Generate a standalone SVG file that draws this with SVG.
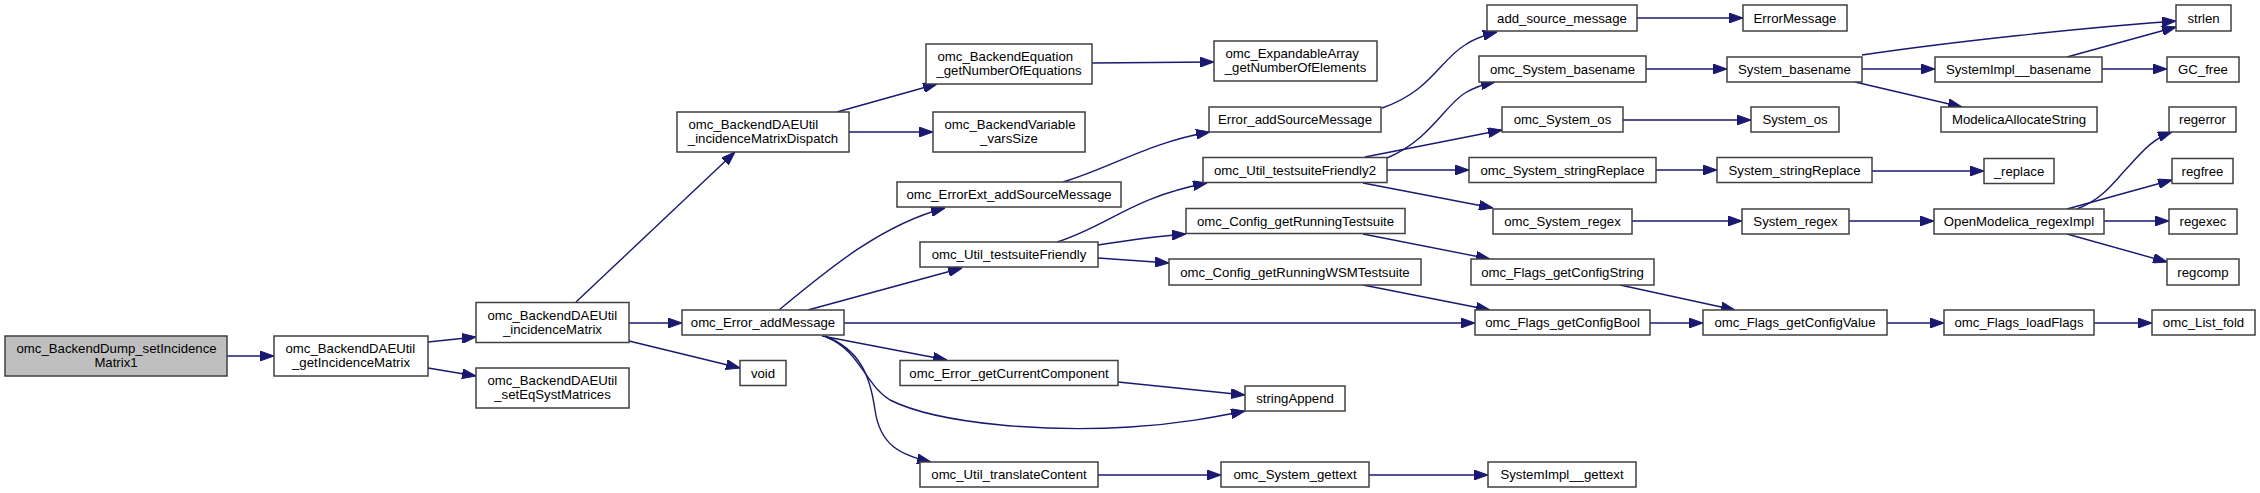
<svg xmlns="http://www.w3.org/2000/svg" width="2260" height="493" viewBox="0 0 2260 493">
<style>
rect{fill:#ffffff;stroke:#404040;stroke-width:1.5}
rect.root{fill:#bfbfbf}
text{font-family:"Liberation Sans",Arial,sans-serif;font-size:13.2px;fill:#000}
.m{text-anchor:middle}
.s{text-anchor:start}
#edges path{fill:none;stroke:#191970;stroke-width:1.4;marker-end:url(#ah)}
</style>
<defs>
<marker id="ah" markerUnits="userSpaceOnUse" markerWidth="14" markerHeight="10" refX="14" refY="5" orient="auto">
<path d="M0,0 L14,5 L0,10 z" fill="#191970" stroke="#191970" stroke-width="1"/>
</marker>
</defs>
<rect x="0" y="0" width="2260" height="493" style="fill:#fff;stroke:none"/>
<g id="edges">
<path d="M227,356 L274,356"/>
<path d="M428,342 L476,337"/>
<path d="M428,368 L476,376"/>
<path d="M576,302 L735,152"/>
<path d="M629,323 L682,323"/>
<path d="M629,341 L740,368"/>
<path d="M837,112 L937,84"/>
<path d="M849,132 L933,132"/>
<path d="M1092,63 L1214,62"/>
<path d="M779,310 C825,272 880,225 945,208"/>
<path d="M808,310 L962,268"/>
<path d="M844,323 L1475,323"/>
<path d="M822,336 L947,360"/>
<path d="M826,337 C860,350 865,385 890,400 C940,425 1050,432 1130,427 C1180,424 1215,417 1245,411"/>
<path d="M825,336 C860,350 870,375 875,410 C880,445 900,455 931,462"/>
<path d="M1118,382 L1245,395"/>
<path d="M1098,475 L1221,475"/>
<path d="M1369,475 L1488,475"/>
<path d="M1063,182 C1110,168 1150,142 1210,132"/>
<path d="M1057,242 C1110,225 1130,198 1207,183"/>
<path d="M1098,245 C1130,240 1160,236 1186,234"/>
<path d="M1098,258 L1169,263"/>
<path d="M1382,108 C1430,92 1440,60 1465,45 C1475,38 1485,35 1497,32"/>
<path d="M1637,18 L1743,18"/>
<path d="M1387,158 C1430,140 1445,105 1465,93 C1475,87 1485,84 1495,82"/>
<path d="M1365,157 L1502,130"/>
<path d="M1387,170 L1469,170"/>
<path d="M1363,183 L1493,208"/>
<path d="M1656,170 L1717,170"/>
<path d="M1646,69 L1727,69"/>
<path d="M1623,120 L1751,120"/>
<path d="M1632,221 L1742,221"/>
<path d="M1363,234 L1490,259"/>
<path d="M1363,285 L1490,310"/>
<path d="M1620,285 L1735,310"/>
<path d="M1650,323 L1703,323"/>
<path d="M1887,323 L1944,323"/>
<path d="M2094,323 L2152,323"/>
<path d="M1862,55 C1950,42 2080,28 2176,21"/>
<path d="M2067,57 L2176,27"/>
<path d="M1862,69 L1935,69"/>
<path d="M1855,82 L1962,107"/>
<path d="M2102,69 L2167,69"/>
<path d="M1872,171 L1984,171"/>
<path d="M1849,221 L1934,221"/>
<path d="M2077,209 C2105,198 2115,180 2130,165 C2145,148 2155,138 2172,132"/>
<path d="M2067,209 L2172,180"/>
<path d="M2104,221 L2169,221"/>
<path d="M2067,234 L2167,262"/>
</g>
<g id="n_root"><rect class="root" x="5" y="336" width="222" height="40"/><text class="s" x="16.5" y="353">omc_BackendDump_setIncidence</text><text class="m" x="116" y="367">Matrix1</text></g>
<g id="n_getIncidenceMatrix"><rect x="274" y="336" width="154" height="40"/><text class="s" x="285.5" y="353">omc_BackendDAEUtil</text><text class="m" x="351" y="367">_getIncidenceMatrix</text></g>
<g id="n_incidenceMatrix"><rect x="476" y="302.5" width="153" height="40"/><text class="s" x="487.5" y="319.5">omc_BackendDAEUtil</text><text class="m" x="552.5" y="333.5">_incidenceMatrix</text></g>
<g id="n_setEqSystMatrices"><rect x="476" y="368" width="153" height="40"/><text class="s" x="487.5" y="385">omc_BackendDAEUtil</text><text class="m" x="552.5" y="399">_setEqSystMatrices</text></g>
<g id="n_dispatch"><rect x="677" y="112" width="172" height="40"/><text class="s" x="688.5" y="129">omc_BackendDAEUtil</text><text class="m" x="763" y="143">_incidenceMatrixDispatch</text></g>
<g id="n_addMessage"><rect x="682" y="310" width="162" height="25"/><text class="m" x="763" y="327">omc_Error_addMessage</text></g>
<g id="n_void"><rect x="740" y="360.5" width="46" height="25"/><text class="m" x="763" y="377.5">void</text></g>
<g id="n_getNumberOfEquations"><rect x="926" y="44" width="166" height="40"/><text class="s" x="937.5" y="61">omc_BackendEquation</text><text class="m" x="1009" y="75">_getNumberOfEquations</text></g>
<g id="n_varsSize"><rect x="933" y="112" width="152" height="40"/><text class="s" x="944.5" y="129">omc_BackendVariable</text><text class="m" x="1009" y="143">_varsSize</text></g>
<g id="n_ErrorExt"><rect x="897" y="182" width="224" height="25"/><text class="m" x="1009" y="199">omc_ErrorExt_addSourceMessage</text></g>
<g id="n_testsuiteFriendly"><rect x="920" y="242" width="178" height="25"/><text class="m" x="1009" y="259">omc_Util_testsuiteFriendly</text></g>
<g id="n_getCurrentComponent"><rect x="900" y="360.5" width="218" height="25"/><text class="m" x="1009" y="377.5">omc_Error_getCurrentComponent</text></g>
<g id="n_translateContent"><rect x="920" y="462" width="178" height="25"/><text class="m" x="1009" y="479">omc_Util_translateContent</text></g>
<g id="n_ExpandableArray"><rect x="1214" y="41" width="163" height="40"/><text class="s" x="1225.5" y="58">omc_ExpandableArray</text><text class="m" x="1295.5" y="72">_getNumberOfElements</text></g>
<g id="n_Error_addSourceMessage"><rect x="1209" y="107" width="172" height="25"/><text class="m" x="1295" y="124">Error_addSourceMessage</text></g>
<g id="n_testsuiteFriendly2"><rect x="1203" y="157.5" width="184" height="25"/><text class="m" x="1295" y="174.5">omc_Util_testsuiteFriendly2</text></g>
<g id="n_getRunningTestsuite"><rect x="1186" y="208.5" width="219" height="25"/><text class="m" x="1295.5" y="225.5">omc_Config_getRunningTestsuite</text></g>
<g id="n_getRunningWSMTestsuite"><rect x="1169" y="259" width="252" height="26"/><text class="m" x="1295" y="276.5">omc_Config_getRunningWSMTestsuite</text></g>
<g id="n_stringAppend"><rect x="1245" y="386" width="100" height="25"/><text class="m" x="1295" y="403">stringAppend</text></g>
<g id="n_System_gettext_omc"><rect x="1221" y="462" width="148" height="25"/><text class="m" x="1295" y="479">omc_System_gettext</text></g>
<g id="n_add_source_message"><rect x="1487" y="5" width="150" height="26"/><text class="m" x="1562" y="22.5">add_source_message</text></g>
<g id="n_omc_System_basename"><rect x="1479" y="56" width="167" height="26"/><text class="m" x="1562.5" y="73.5">omc_System_basename</text></g>
<g id="n_omc_System_os"><rect x="1502" y="107" width="121" height="25"/><text class="m" x="1562.5" y="124">omc_System_os</text></g>
<g id="n_omc_System_stringReplace"><rect x="1469" y="157.5" width="187" height="25"/><text class="m" x="1562.5" y="174.5">omc_System_stringReplace</text></g>
<g id="n_omc_System_regex"><rect x="1493" y="209" width="139" height="25"/><text class="m" x="1562.5" y="226">omc_System_regex</text></g>
<g id="n_getConfigString"><rect x="1471" y="259" width="183" height="26"/><text class="m" x="1562.5" y="276.5">omc_Flags_getConfigString</text></g>
<g id="n_getConfigBool"><rect x="1475" y="310" width="175" height="25"/><text class="m" x="1562.5" y="327">omc_Flags_getConfigBool</text></g>
<g id="n_SystemImpl_gettext"><rect x="1488" y="462" width="148" height="25"/><text class="m" x="1562" y="479">SystemImpl__gettext</text></g>
<g id="n_ErrorMessage"><rect x="1743" y="5" width="104" height="26"/><text class="m" x="1795" y="22.5">ErrorMessage</text></g>
<g id="n_System_basename"><rect x="1727" y="57" width="135" height="25"/><text class="m" x="1794.5" y="74">System_basename</text></g>
<g id="n_System_os"><rect x="1751" y="107" width="88" height="25"/><text class="m" x="1795" y="124">System_os</text></g>
<g id="n_System_stringReplace"><rect x="1717" y="157.5" width="155" height="25"/><text class="m" x="1794.5" y="174.5">System_stringReplace</text></g>
<g id="n_System_regex"><rect x="1742" y="209" width="107" height="25"/><text class="m" x="1795.5" y="226">System_regex</text></g>
<g id="n_getConfigValue"><rect x="1703" y="310" width="184" height="25"/><text class="m" x="1795" y="327">omc_Flags_getConfigValue</text></g>
<g id="n_strlen"><rect x="2176" y="5" width="55" height="26"/><text class="m" x="2203.5" y="22.5">strlen</text></g>
<g id="n_SystemImpl_basename"><rect x="1935" y="57" width="167" height="25"/><text class="m" x="2018.5" y="74">SystemImpl__basename</text></g>
<g id="n_ModelicaAllocateString"><rect x="1941" y="107" width="156" height="25"/><text class="m" x="2019" y="124">ModelicaAllocateString</text></g>
<g id="n_replace"><rect x="1984" y="158.5" width="70" height="25"/><text class="m" x="2019" y="175.5">_replace</text></g>
<g id="n_regexImpl"><rect x="1934" y="209" width="170" height="25"/><text class="m" x="2019" y="226">OpenModelica_regexImpl</text></g>
<g id="n_loadFlags"><rect x="1944" y="310" width="150" height="25"/><text class="m" x="2019" y="327">omc_Flags_loadFlags</text></g>
<g id="n_GC_free"><rect x="2167" y="57" width="72" height="25"/><text class="m" x="2203" y="74">GC_free</text></g>
<g id="n_regerror"><rect x="2169" y="107" width="67" height="25"/><text class="m" x="2202.5" y="124">regerror</text></g>
<g id="n_regfree"><rect x="2172" y="158.5" width="61" height="25"/><text class="m" x="2202.5" y="175.5">regfree</text></g>
<g id="n_regexec"><rect x="2169" y="209" width="68" height="25"/><text class="m" x="2203" y="226">regexec</text></g>
<g id="n_regcomp"><rect x="2167" y="259" width="72" height="26"/><text class="m" x="2203" y="276.5">regcomp</text></g>
<g id="n_List_fold"><rect x="2152" y="310" width="103" height="25"/><text class="m" x="2203.5" y="327">omc_List_fold</text></g>
</svg>
